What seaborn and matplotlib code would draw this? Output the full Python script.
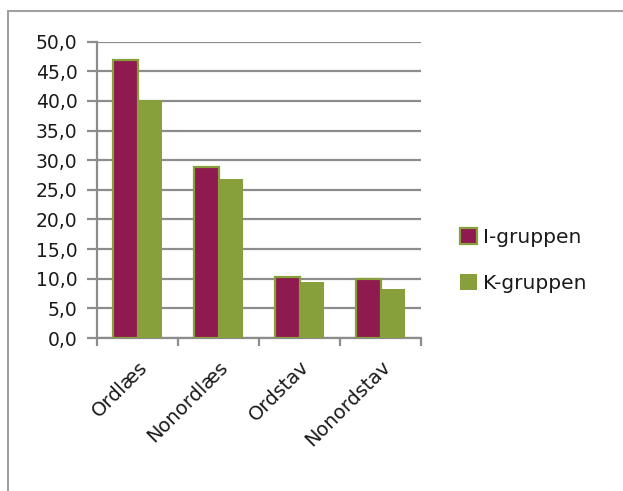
import matplotlib
matplotlib.use("Agg")
import matplotlib.pyplot as plt
from matplotlib.lines import Line2D
from matplotlib.ticker import FixedLocator, FuncFormatter
import seaborn as sns
import pandas as pd

# Test categories and group means
categories = ["Ordlæs", "Nonordlæs", "Ordstav", "Nonordstav"]
groups = ["I-gruppen", "K-gruppen"]
i_gruppen = [47.0, 28.9, 10.3, 9.9]
k_gruppen = [40.2, 26.8, 9.5, 8.2]
y_ticks = [0, 5, 10, 15, 20, 25, 30, 35, 40, 45, 50]

df = pd.DataFrame({
    "test": categories * 2,
    "gruppe": [groups[0]] * len(categories) + [groups[1]] * len(categories),
    "score": i_gruppen + k_gruppen,
})

maroon = "#8E1A4F"
olive = "#87A03C"
grid_gray = "#8C8C8C"
text_col = "#1A1A1A"

sns.set_theme(style="white")
plt.rcParams["font.family"] = ["DejaVu Sans"]

fig = plt.figure(figsize=(6.23, 4.91), dpi=100)
ax = fig.add_axes([0.1557, 0.3116, 0.5201, 0.6034])

sns.barplot(data=df, x="test", y="score", hue="gruppe", order=categories,
            hue_order=groups, palette=[maroon, olive], width=0.6,
            saturation=1, ax=ax, legend=False, zorder=3)

# I-gruppen bars carry a thin olive outline
for bar in ax.containers[0]:
    bar.set_edgecolor(olive)
    bar.set_linewidth(1.6)
for bar in ax.containers[1]:
    bar.set_linewidth(0)

ax.set_ylim(0, 50)
ax.set_xlim(-0.5, len(categories) - 0.5)
ax.set_yticks(y_ticks)
ax.yaxis.set_major_formatter(FuncFormatter(lambda v, _: f"{v:.1f}".replace(".", ",")))
ax.grid(axis="y", color=grid_gray, linewidth=1.6, zorder=0)
ax.set_axisbelow(True)

for side in ["top", "right"]:
    ax.spines[side].set_visible(False)
for side in ["left", "bottom"]:
    ax.spines[side].set_color(grid_gray)
    ax.spines[side].set_linewidth(1.6)

ax.tick_params(axis="y", which="major", direction="out", length=7, width=1.6,
               color=grid_gray, labelsize=13.5, labelcolor=text_col, pad=7, left=True)
ax.xaxis.set_minor_locator(FixedLocator([k - 0.5 for k in range(len(categories) + 1)]))
ax.tick_params(axis="x", which="minor", direction="out", length=6, width=1.6,
               color=grid_gray, bottom=True)
ax.tick_params(axis="x", which="major", length=0, labelsize=14,
               labelcolor=text_col, pad=14)
for lbl in ax.get_xticklabels():
    lbl.set_rotation(45)
    lbl.set_ha("right")
    lbl.set_rotation_mode("anchor")

ax.set_xlabel("")
ax.set_ylabel("")

handles = [
    plt.Rectangle((0, 0), 1, 1, facecolor=maroon, edgecolor=olive, linewidth=1.6),
    plt.Rectangle((0, 0), 1, 1, facecolor=olive, edgecolor=olive, linewidth=0),
]
fig.legend(handles, groups, loc="center left", bbox_to_anchor=(0.738, 0.47),
           frameon=False, fontsize=14.5, handlelength=0.85, handleheight=0.85,
           handletextpad=0.3, labelspacing=1.35, labelcolor=text_col,
           borderpad=0, borderaxespad=0)

# Chart-area frame on the left and top edges
fig.add_artist(Line2D([8 / 623, 8 / 623], [0, 1 - 11 / 491],
                      transform=fig.transFigure, color="#A0A0A0", linewidth=1.5))
fig.add_artist(Line2D([8 / 623, 1], [1 - 11 / 491, 1 - 11 / 491],
                      transform=fig.transFigure, color="#A0A0A0", linewidth=1.5))

fig.savefig("out.png", dpi=100, facecolor="white")
